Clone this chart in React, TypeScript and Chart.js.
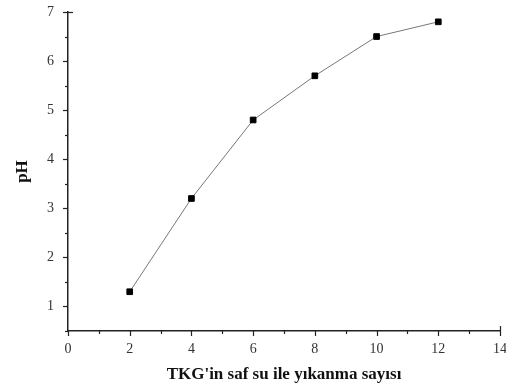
import React, { useEffect, useRef } from "react";
import { Chart, registerables } from "chart.js";

Chart.register(...registerables);

const washCounts = [2, 4, 6, 8, 10, 12];
const phValues = [1.3, 3.2, 4.8, 5.7, 6.5, 6.8];
const xTitle = "TKG'in saf su ile yıkanma sayısı";
const yTitle = "pH";

const FONT = "'Liberation Serif', 'Times New Roman', serif";

const tickPlugin = {
  id: "customTicks",
  afterDraw(chart: any) {
    const ctx = chart.ctx;
    const xs = chart.scales.x;
    const ys = chart.scales.y;
    const area = chart.chartArea;
    ctx.save();
    ctx.strokeStyle = "#222";
    ctx.lineWidth = 1.2;
    for (let v = xs.min; v <= xs.max + 1e-9; v += 1) {
      const px = Math.round(xs.getPixelForValue(v)) + 0.5;
      const len = v % 2 === 0 ? 5 : 3;
      ctx.beginPath();
      ctx.moveTo(px, area.bottom - (v === xs.max ? 5 : 0));
      ctx.lineTo(px, area.bottom + len);
      ctx.stroke();
    }
    for (let v = 0.5; v <= ys.max + 1e-9; v += 0.5) {
      const py = Math.round(ys.getPixelForValue(v)) + 0.5;
      const len = Math.abs(v - Math.round(v)) < 1e-9 ? 5 : 3;
      ctx.beginPath();
      ctx.moveTo(area.left + (v === ys.max ? 5 : 0), py);
      ctx.lineTo(area.left - len, py);
      ctx.stroke();
    }
    ctx.restore();
  },
};

export default function App() {
  const ref = useRef<HTMLCanvasElement | null>(null);
  useEffect(() => {
    document.body.style.margin = "0";
    const canvas = ref.current!;
    const chart = new Chart(canvas, {
      type: "scatter",
      data: {
        datasets: [
          {
            data: washCounts.map((x, i) => ({ x, y: phValues[i] })),
            showLine: true,
            borderColor: "#777",
            borderWidth: 1,
            backgroundColor: "#000",
            pointStyle: "rect",
            pointRadius: 4,
            pointBorderColor: "#000",
            pointBackgroundColor: "#000",
            tension: 0,
          },
        ],
      },
      options: {
        animation: false,
        responsive: false,
        maintainAspectRatio: false,
        layout: { padding: { top: 12, right: 6, left: 0, bottom: 0 } },
        plugins: { legend: { display: false }, tooltip: { enabled: false } },
        scales: {
          x: {
            type: "linear",
            min: 0,
            max: 14,
            ticks: {
              stepSize: 2,
              color: "#333",
              font: { family: FONT, size: 14 },
              padding: 5,
            },
            grid: { display: false, drawTicks: true, tickLength: 5 },
            border: { display: true, color: "#222", width: 1.5 },
            title: {
              display: true,
              text: xTitle,
              color: "#111",
              font: { family: FONT, size: 17, weight: "bold" },
              padding: { top: 8, bottom: 2 },
            },
            afterFit(scale: any) {
              scale.height = 56;
              scale.paddingLeft = 0;
              scale.paddingRight = 0;
            },
          },
          y: {
            type: "linear",
            min: 0.5,
            max: 7,
            ticks: {
              stepSize: 1,
              color: "#333",
              font: { family: FONT, size: 14 },
              padding: 9,
              callback: (v: any) => (Number.isInteger(v) ? String(v) : ""),
            },
            afterBuildTicks(scale: any) {
              scale.ticks = [1, 2, 3, 4, 5, 6, 7].map((v) => ({ value: v }));
            },
            grid: { display: false, drawTicks: true, tickLength: 5 },
            border: { display: true, color: "#222", width: 1.5 },
            title: {
              display: true,
              text: yTitle,
              color: "#111",
              font: { family: FONT, size: 17, weight: "bold" },
              padding: { top: 12, bottom: 8 },
            },
            afterFit(scale: any) {
              scale.width = 68;
              scale.paddingTop = 0;
              scale.paddingBottom = 0;
            },
          },
        },
      },
      plugins: [tickPlugin],
    });
    return () => chart.destroy();
  }, []);
  return (
    <div style={{ position: "fixed", left: 0, top: 0, width: 506, height: 387, background: "#fff" }}>
      <canvas ref={ref} width={506} height={387} style={{ width: 506, height: 387 }} />
    </div>
  );
}
